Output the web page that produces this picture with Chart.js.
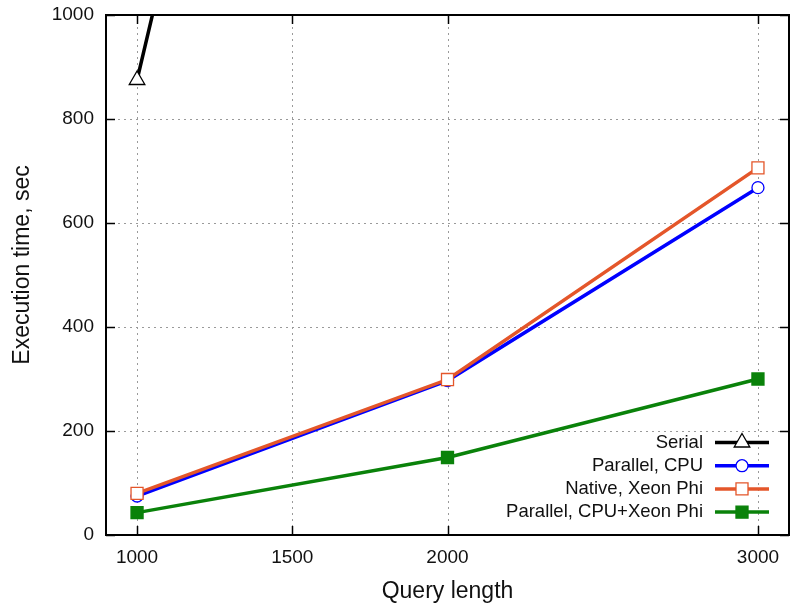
<!DOCTYPE html>
<html>
<head>
<meta charset="utf-8">
<script src="https://cdn.jsdelivr.net/npm/chart.js@4/dist/chart.umd.min.js"></script>
<style>
  html, body { margin: 0; padding: 0; background: #fff; }
  #wrap { width: 790px; height: 605px; }
</style>
</head>
<body>
<div id="wrap"><canvas id="c" width="790" height="605"></canvas></div>
<script>
// ---- data ----
const queryLengths = [1000, 2000, 3000];
const serial = [875, 3400, 7800];
const parallelCPU = [75, 297, 668];
const nativeXeonPhi = [80, 299, 706];
const parallelCPUXeonPhi = [43, 149, 300];
const xTicks = [1000, 1500, 2000, 3000];
const yTicks = [0, 200, 400, 600, 800, 1000];
const seriesLabels = ['Serial', 'Parallel, CPU', 'Native, Xeon Phi', 'Parallel, CPU+Xeon Phi'];
const xTitle = 'Query length';
const yTitle = 'Execution time, sec';

const FONT = '"Liberation Sans", Arial, Helvetica, sans-serif';
const pts = arr => queryLengths.map((q, i) => ({ x: q, y: arr[i] }));

const framePlugin = {
  id: 'frame',
  beforeDatasetsDraw(chart) {
    const { ctx, chartArea: a, scales: { x, y } } = chart;
    ctx.save();
    ctx.strokeStyle = '#9a9a9a';
    ctx.lineWidth = 1;
    ctx.setLineDash([2, 4]);
    xTicks.forEach(v => {
      const px = Math.round(x.getPixelForValue(v)) + 0.5;
      ctx.beginPath(); ctx.moveTo(px, a.top); ctx.lineTo(px, a.bottom); ctx.stroke();
    });
    yTicks.slice(1, -1).forEach(v => {
      const py = Math.round(y.getPixelForValue(v)) + 0.5;
      ctx.beginPath(); ctx.moveTo(a.left, py); ctx.lineTo(a.right, py); ctx.stroke();
    });
    ctx.restore();
  },
  afterDatasetsDraw(chart) {
    const { ctx, chartArea: a, scales: { x, y } } = chart;
    ctx.save();
    ctx.strokeStyle = '#000';
    ctx.lineWidth = 1.5;
    ctx.setLineDash([]);
    const L = 9;
    xTicks.forEach(v => {
      const px = Math.round(x.getPixelForValue(v)) + 0.5;
      ctx.beginPath(); ctx.moveTo(px, a.bottom); ctx.lineTo(px, a.bottom - L); ctx.stroke();
      ctx.beginPath(); ctx.moveTo(px, a.top); ctx.lineTo(px, a.top + L); ctx.stroke();
    });
    yTicks.forEach(v => {
      const py = Math.round(y.getPixelForValue(v)) + 0.5;
      ctx.beginPath(); ctx.moveTo(a.left, py); ctx.lineTo(a.left + L, py); ctx.stroke();
      ctx.beginPath(); ctx.moveTo(a.right, py); ctx.lineTo(a.right - L, py); ctx.stroke();
    });
    ctx.lineWidth = 2;
    ctx.strokeRect(a.left, a.top, a.right - a.left, a.bottom - a.top);
    ctx.restore();
  },
  afterDraw(chart) {
    const { ctx, chartArea: a } = chart;
    ctx.save();
    ctx.font = '23px ' + FONT;
    ctx.fillStyle = '#111';
    ctx.textAlign = 'center';
    ctx.textBaseline = 'middle';
    ctx.translate(23, (a.top + a.bottom) / 2 - 10);
    ctx.rotate(-Math.PI / 2);
    ctx.fillText(yTitle, 0, 0);
    ctx.restore();
  }
};

const legendPlugin = {
  id: 'insideLegend',
  afterDraw(chart) {
    const { ctx, chartArea: a } = chart;
    ctx.save();
    ctx.font = '18.5px ' + FONT;
    ctx.textAlign = 'right';
    ctx.textBaseline = 'middle';
    const textRight = a.right - 86;
    const x0 = a.right - 74, x1 = a.right - 20;
    chart.data.datasets.forEach((ds, i) => {
      const yy = a.bottom - 92.5 + i * 23.2;
      ctx.fillStyle = '#111';
      ctx.fillText(ds.label, textRight, yy);
      ctx.strokeStyle = ds.borderColor;
      ctx.lineWidth = ds.borderWidth;
      ctx.setLineDash([]);
      ctx.beginPath(); ctx.moveTo(x0, yy); ctx.lineTo(x1, yy); ctx.stroke();
      ctx.fillStyle = ds.pointBackgroundColor;
      ctx.strokeStyle = ds.pointBorderColor;
      ctx.lineWidth = ds.pointBorderWidth;
      Chart.helpers.drawPoint(ctx, {
        pointStyle: ds.pointStyle, radius: ds.pointRadius, rotation: 0, borderWidth: ds.pointBorderWidth
      }, (x0 + x1) / 2, yy);
    });
    ctx.restore();
  }
};

const colors = ['#000000', '#0000ff', '#e4562a', '#0a820a'];

new Chart(document.getElementById('c'), {
  type: 'line',
  data: {
    datasets: [
      { label: seriesLabels[0], data: pts(serial), borderColor: colors[0], borderWidth: 3.5,
        pointStyle: 'triangle', pointRadius: 9, pointBackgroundColor: '#fff', pointBorderColor: colors[0], pointBorderWidth: 1.3, order: 0 },
      { label: seriesLabels[1], data: pts(parallelCPU), borderColor: colors[1], borderWidth: 3.5,
        pointStyle: 'circle', pointRadius: 6, pointBackgroundColor: '#fff', pointBorderColor: colors[1], pointBorderWidth: 1.3, order: 3 },
      { label: seriesLabels[2], data: pts(nativeXeonPhi), borderColor: colors[2], borderWidth: 3.5,
        pointStyle: 'rect', pointRadius: 8.5, pointBackgroundColor: '#fff', pointBorderColor: colors[2], pointBorderWidth: 1.3, order: 2 },
      { label: seriesLabels[3], data: pts(parallelCPUXeonPhi), borderColor: colors[3], borderWidth: 3.5,
        pointStyle: 'rect', pointRadius: 8.5, pointBackgroundColor: colors[3], pointBorderColor: colors[3], pointBorderWidth: 1.3, order: 4 }
    ]
  },
  options: {
    responsive: false,
    animation: false,
    events: [],
    layout: { autoPadding: false, padding: { top: 15, right: 1, left: 0, bottom: 0 } },
    plugins: { legend: { display: false }, tooltip: { enabled: false } },
    scales: {
      x: {
        type: 'linear', min: 900, max: 3100,
        afterBuildTicks: axis => { axis.ticks = xTicks.map(v => ({ value: v })); },
        afterFit: s => { s.height = 70; s.paddingLeft = 0; s.paddingRight = 0; },
        grid: { display: false, drawTicks: false },
        border: { display: false },
        ticks: { font: { family: FONT, size: 19 }, color: '#111', padding: 11, maxRotation: 0, autoSkip: false,
                 callback: v => String(v) },
        title: { display: true, text: xTitle, font: { family: FONT, size: 23 }, color: '#111', padding: { top: 0, bottom: 0 } }
      },
      y: {
        type: 'linear', min: 0, max: 1000,
        afterBuildTicks: axis => { axis.ticks = yTicks.map(v => ({ value: v })); },
        afterFit: s => { s.width = 106; s.paddingTop = 0; s.paddingBottom = 0; s.paddingLeft = 0; s.paddingRight = 0; },
        grid: { display: false, drawTicks: false },
        border: { display: false },
        ticks: { font: { family: FONT, size: 19 }, color: '#111', padding: 12, callback: v => String(v) },
        title: { display: false }
      }
    }
  },
  plugins: [framePlugin, legendPlugin]
});
</script>
</body>
</html>
